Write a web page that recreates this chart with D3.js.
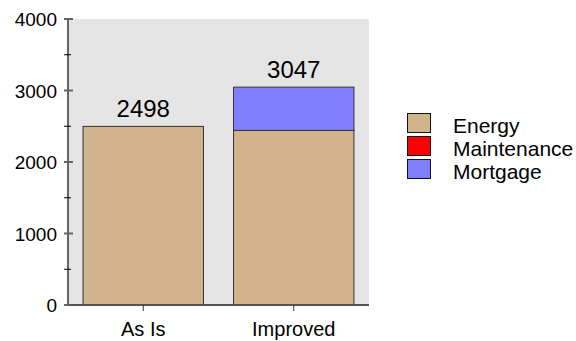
<!DOCTYPE html>
<html>
<head>
<meta charset="utf-8">
<script src="https://cdn.jsdelivr.net/npm/d3@7"></script>
<style>
  html, body { margin: 0; padding: 0; background: #fff; }
  svg { display: block; font-family: "Liberation Sans", Arial, sans-serif; }
</style>
</head>
<body>
<svg id="chart" width="576" height="341"></svg>
<script>
// Annual cost by scenario, stacked by component
const categories = ["As Is", "Improved"];
const seriesNames = ["Energy", "Maintenance", "Mortgage"];
const energy = [2498, 2442];
const maintenance = [0, 0];
const mortgage = [0, 605];
const totals = [2498, 3047];
const majorTicks = [0, 1000, 2000, 3000, 4000];
const minorTicks = [500, 1500, 2500, 3500];
const colors = ["#D2B48C", "#FF0000", "#8080FF"];

const svg = d3.select("#chart");
const plot = { left: 68, right: 369, top: 19, bottom: 305 };

const x = d3.scaleBand()
  .domain(categories)
  .range([plot.left, plot.right])
  .paddingInner(0.2)
  .paddingOuter(0.1);

const y = d3.scaleLinear()
  .domain([0, 4000])
  .range([plot.bottom, plot.top]);

const color = d3.scaleOrdinal().domain(seriesNames).range(colors);

// plot background
svg.append("rect")
  .attr("x", plot.left)
  .attr("y", plot.top)
  .attr("width", plot.right - plot.left)
  .attr("height", plot.bottom - plot.top)
  .attr("fill", "#E5E5E5");

// stacked bars
const rows = categories.map((c, i) => ({
  category: c,
  Energy: energy[i],
  Maintenance: maintenance[i],
  Mortgage: mortgage[i]
}));
const stacked = d3.stack().keys(seriesNames)(rows);

svg.append("g").selectAll("g")
  .data(stacked)
  .join("g")
  .attr("fill", d => color(d.key))
  .selectAll("rect")
  .data(d => d.filter(s => s[1] - s[0] > 0))
  .join("rect")
  .attr("x", d => x(d.data.category))
  .attr("y", d => y(d[1]))
  .attr("width", x.bandwidth())
  .attr("height", d => y(d[0]) - y(d[1]))
  .attr("stroke", "#333")
  .attr("stroke-width", 1);

// totals above bars
svg.append("g").selectAll("text")
  .data(categories)
  .join("text")
  .attr("x", d => x(d) + x.bandwidth() / 2)
  .attr("y", (d, i) => y(totals[i]) - 9)
  .attr("text-anchor", "middle")
  .attr("font-size", 24)
  .attr("fill", "#000")
  .text((d, i) => totals[i]);

// y axis
const yAxis = svg.append("g");
yAxis.append("line")
  .attr("x1", plot.left).attr("x2", plot.left)
  .attr("y1", plot.top).attr("y2", plot.bottom)
  .attr("stroke", "#666").attr("stroke-width", 2);
yAxis.selectAll("line.major")
  .data(majorTicks)
  .join("line")
  .attr("class", "major")
  .attr("x1", plot.left - 4).attr("x2", plot.left + 5)
  .attr("y1", d => y(d)).attr("y2", d => y(d))
  .attr("stroke", "#666").attr("stroke-width", 2);
yAxis.selectAll("line.minor")
  .data(minorTicks)
  .join("line")
  .attr("class", "minor")
  .attr("x1", plot.left - 4).attr("x2", plot.left + 3)
  .attr("y1", d => y(d)).attr("y2", d => y(d))
  .attr("stroke", "#000").attr("stroke-width", 1);
yAxis.selectAll("text")
  .data(majorTicks)
  .join("text")
  .attr("x", plot.left - 11)
  .attr("y", d => y(d) + 7)
  .attr("text-anchor", "end")
  .attr("font-size", 19)
  .attr("fill", "#000")
  .text(d => d);

// x axis
const xAxis = svg.append("g");
xAxis.append("line")
  .attr("x1", plot.left).attr("x2", plot.right)
  .attr("y1", plot.bottom).attr("y2", plot.bottom)
  .attr("stroke", "#555").attr("stroke-width", 2);
xAxis.selectAll("line.tick")
  .data(categories)
  .join("line")
  .attr("class", "tick")
  .attr("x1", d => x(d) + x.bandwidth() / 2)
  .attr("x2", d => x(d) + x.bandwidth() / 2)
  .attr("y1", plot.bottom).attr("y2", plot.bottom + 6)
  .attr("stroke", "#333").attr("stroke-width", 1);
xAxis.selectAll("text")
  .data(categories)
  .join("text")
  .attr("x", d => x(d) + x.bandwidth() / 2)
  .attr("y", 336)
  .attr("text-anchor", "middle")
  .attr("font-size", 20)
  .attr("fill", "#000")
  .text(d => d);

// legend
const legend = svg.append("g").attr("transform", "translate(407,113)");
const item = legend.selectAll("g")
  .data(seriesNames)
  .join("g")
  .attr("transform", (d, i) => `translate(0,${i * 23})`);
item.append("rect")
  .attr("x", 0.5).attr("y", 0.5)
  .attr("width", 23).attr("height", 19)
  .attr("fill", d => color(d))
  .attr("stroke", "#111").attr("stroke-width", 1);
item.append("text")
  .attr("x", 46)
  .attr("y", 20)
  .attr("font-size", 21)
  .attr("fill", "#000")
  .text(d => d);
</script>
</body>
</html>
